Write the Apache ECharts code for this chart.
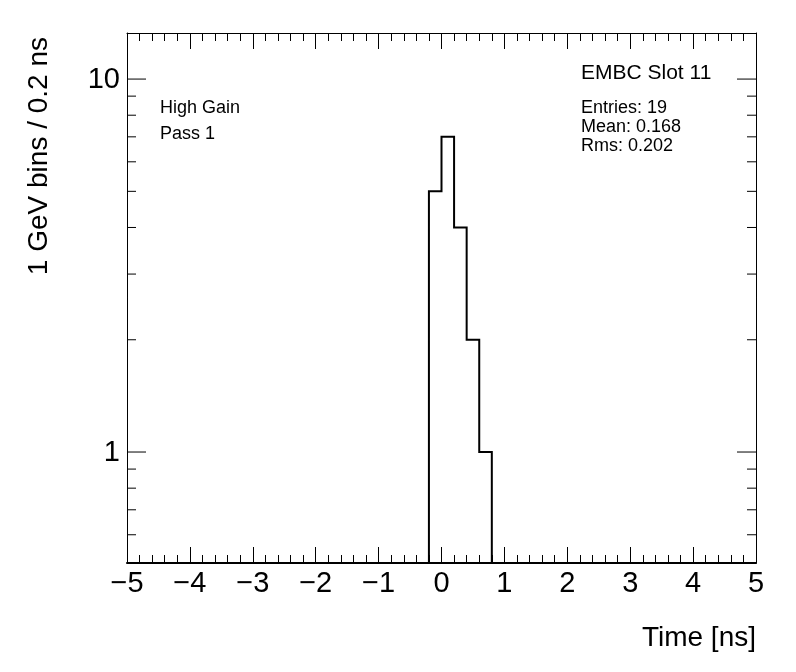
<!DOCTYPE html>
<html>
<head>
<meta charset="utf-8">
<script src="https://cdn.jsdelivr.net/npm/echarts@6/dist/echarts.min.js"></script>
<style>
html,body{margin:0;padding:0;background:#fff;}
#chart{width:796px;height:672px;}
</style>
</head>
<body>
<div id="chart"></div>
<script>
// ---- data ----
const binLow = [-0.2, 0.0, 0.2, 0.4, 0.6];
const binHigh = [0.0, 0.2, 0.4, 0.6, 0.8];
const counts = [5, 7, 4, 2, 1];
const xTickMin = -5, xTickMax = 5, xTickStep = 1;
const yMin = 0.504, yMax = 13.29;
const yMajorTicks = [1, 10];
const yMajorLabels = ['1', '10'];
const yMinorTicks = [0.6, 0.7, 0.8, 0.9, 2, 3, 4, 5, 6, 7, 8, 9];
const statsLines = ['Entries: 19', 'Mean: 0.168', 'Rms: 0.202'];

const FONT = '"Liberation Sans", Arial, Helvetica, sans-serif';
const chart = echarts.init(document.getElementById('chart'), null, {renderer: 'canvas'});

function fmtNum(v) { return String(v).replace('-', '\u2212'); }

function tickRender(isMajor) {
  return function (params, api) {
    const v = api.value(1);
    const pL = api.coord([xTickMin, v]);
    const pR = api.coord([xTickMax, v]);
    const len = isMajor ? 19 : 9;
    const children = [
      {type: 'line', shape: {x1: pL[0], y1: pL[1], x2: pL[0] + len, y2: pL[1]}, style: {stroke: '#000', lineWidth: 1}},
      {type: 'line', shape: {x1: pR[0], y1: pR[1], x2: pR[0] - len, y2: pR[1]}, style: {stroke: '#000', lineWidth: 1}}
    ];
    if (isMajor) {
      children.push({type: 'text', x: pL[0] - 7, y: pL[1] + 1,
        style: {text: yMajorLabels[params.dataIndex], font: '29px ' + FONT, fill: '#000', align: 'right', verticalAlign: 'middle'}});
    }
    return {type: 'group', children: children};
  };
}

function histRender(params, api) {
  const pts = [];
  pts.push(api.coord([binLow[0], yMin]));
  for (let i = 0; i < counts.length; i++) {
    pts.push(api.coord([binLow[i], counts[i]]));
    pts.push(api.coord([binHigh[i], counts[i]]));
  }
  pts.push(api.coord([binHigh[counts.length - 1], yMin]));
  return {type: 'polyline', shape: {points: pts}, style: {stroke: '#000', lineWidth: 2, fill: null}};
}

const xAxisCommon = {
  type: 'value', min: xTickMin, max: xTickMax, interval: xTickStep,
  axisLine: {onZero: false, lineStyle: {color: '#000', width: 1}},
  axisTick: {inside: true, length: 16, lineStyle: {color: '#000', width: 1}},
  minorTick: {show: true, splitNumber: 5, length: 8, lineStyle: {color: '#000', width: 1}},
  splitLine: {show: false}, minorSplitLine: {show: false}
};

const yAxisCommon = {
  type: 'log', logBase: 10, min: yMin, max: yMax,
  axisLine: {show: true, onZero: false, lineStyle: {color: '#000', width: 1}},
  axisTick: {show: false}, axisLabel: {show: false},
  splitLine: {show: false}, minorTick: {show: false}, minorSplitLine: {show: false}
};

const option = {
  animation: false,
  backgroundColor: '#fff',
  grid: {left: 127, right: 40, top: 33, bottom: 109, show: false},
  xAxis: [
    Object.assign({}, xAxisCommon, {
      position: 'bottom',
      axisLine: {onZero: false, lineStyle: {color: '#000', width: 2}},
      axisLabel: {fontSize: 29, color: '#000', fontFamily: FONT, margin: 6, formatter: fmtNum}
    }),
    Object.assign({}, xAxisCommon, {position: 'top', axisLabel: {show: false}})
  ],
  yAxis: [
    Object.assign({}, yAxisCommon, {position: 'left'}),
    Object.assign({}, yAxisCommon, {position: 'right'})
  ],
  series: [
    {type: 'custom', coordinateSystem: 'cartesian2d', xAxisIndex: 0, yAxisIndex: 0, clip: true,
      renderItem: histRender, data: [[binLow[0], counts[0]]], silent: true},
    {type: 'custom', coordinateSystem: 'cartesian2d', xAxisIndex: 0, yAxisIndex: 0,
      renderItem: tickRender(true), data: yMajorTicks.map(v => [xTickMin, v]), silent: true},
    {type: 'custom', coordinateSystem: 'cartesian2d', xAxisIndex: 0, yAxisIndex: 0,
      renderItem: tickRender(false), data: yMinorTicks.map(v => [xTickMin, v]), silent: true}
  ],
  graphic: [
    {type: 'text', x: 160, y: 108, style: {text: 'High Gain', font: '18px ' + FONT, fill: '#000', align: 'left', verticalAlign: 'middle'}},
    {type: 'text', x: 160, y: 134, style: {text: 'Pass 1', font: '18px ' + FONT, fill: '#000', align: 'left', verticalAlign: 'middle'}},
    {type: 'text', x: 581, y: 73, style: {text: 'EMBC Slot 11', font: '21px ' + FONT, fill: '#000', align: 'left', verticalAlign: 'middle'}},
    {type: 'text', x: 581, y: 108, style: {text: statsLines[0], font: '18px ' + FONT, fill: '#000', align: 'left', verticalAlign: 'middle'}},
    {type: 'text', x: 581, y: 127, style: {text: statsLines[1], font: '18px ' + FONT, fill: '#000', align: 'left', verticalAlign: 'middle'}},
    {type: 'text', x: 581, y: 146, style: {text: statsLines[2], font: '18px ' + FONT, fill: '#000', align: 'left', verticalAlign: 'middle'}},
    {type: 'text', x: 756, y: 638, style: {text: 'Time [ns]', font: '28px ' + FONT, fill: '#000', align: 'right', verticalAlign: 'middle'}},
    {type: 'text', x: 39, y: 37, rotation: Math.PI / 2, style: {text: '1 GeV bins / 0.2 ns', font: '28px ' + FONT, fill: '#000', align: 'right', verticalAlign: 'middle'}}
  ]
};
chart.setOption(option);
</script>
</body>
</html>
